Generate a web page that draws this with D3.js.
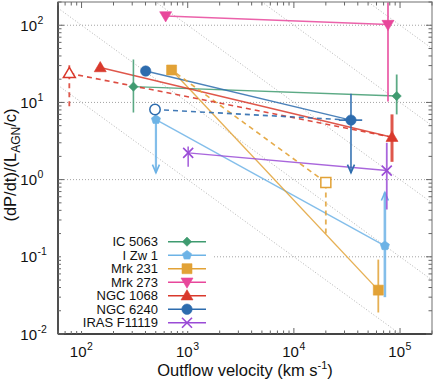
<!DOCTYPE html>
<html>
<head>
<meta charset="utf-8">
<script src="https://cdn.jsdelivr.net/npm/d3@7"></script>
<style>
  body { margin: 0; background: #fff; }
  svg { display: block; font-family: "Liberation Sans", Arial, sans-serif; }
</style>
</head>
<body>
<svg id="chart" width="436" height="382"></svg>
<script>
// sources, in legend order
var names = ["IC 5063", "I Zw 1", "Mrk 231", "Mrk 273", "NGC 1068", "NGC 6240", "IRAS F11119"];
var colors = ["#3f9b70", "#6db3e6", "#e2a236", "#e8479b", "#d9392c", "#2d6cae", "#9a4bd6"];
var shapes = ["diamond", "pentagon", "square", "tridown", "triup", "circle", "x"];

// molecular outflow (low velocity) points
var vMol = [308, 502, 705, 620, 150, 402, 1010];
var pMol = [16.0, 6.0, 26.3, 132, 28.3, 25.5, 2.22];
// UFO (high velocity) points
var vUfo = [9.3e4, 7.2e4, 6.24e4, 7.7e4, 8.4e4, 3.45e4, 7.5e4];
var pUfo = [12.1, 0.139, 0.037, 102, 3.54, 5.9, 1.31];

// vertical bars [low, high] and which end is an arrow (limit)
var barMol = [[7.4, 36], [1.23, 6.0], null, null, null, null, [1.47, 2.68]];
var arrowMol = [null, "low", null, null, null, null, null];
var barUfo = [[7, 23], [0.03, 0.68], [0.019, 0.092], [10.3, 500], [1.7, 7], [1.23, 13], [0.41, 3.0]];
var arrowUfo = [null, "high", null, null, null, "low", null];
var xbarUfo = [null, null, null, null, null, [2.65e4, 4.4e4], null];

// alternative estimates (open symbols, dashed)
var altSrc = [2, 4, 5];
var altV = [2e4, 76.7, 492];
var altP = [0.92, 23.8, 8.1];
var altSide = ["ufo", "mol", "mol"];
var altBar = [[0.2, 1.05], [8.9, 31], null];

// guide lines p = K / v
var guideK = [1e3, 1e4, 1e5, 1e6, 1e7];
var xMajor = [1e2, 1e3, 1e4, 1e5];
var yMajor = [1e-2, 1e-1, 1, 10, 100];
var yGrid = [1e-1, 1, 10, 100];

var svg = d3.select("#chart");
var L = 58, R = 432, T = 2, B = 334;
var x = d3.scaleLog().domain([60, 2e5]).range([L, R]);
var y = d3.scaleLog().domain([0.01, 200]).range([B, T]);

svg.append("defs").append("clipPath").attr("id", "clip")
  .append("rect").attr("x", L).attr("y", T).attr("width", R - L).attr("height", B - T);

var plot = svg.append("g").attr("clip-path", "url(#clip)");

// horizontal grid
plot.selectAll(".grid").data(yGrid).enter().append("line")
  .attr("x1", L).attr("x2", R)
  .attr("y1", function(d) { return y(d); }).attr("y2", function(d) { return y(d); })
  .attr("stroke", "#999").attr("stroke-width", 0.9).attr("stroke-dasharray", "1,2");

// diagonal guides
plot.selectAll(".guide").data(guideK).enter().append("line")
  .attr("x1", x(60)).attr("x2", x(2e5))
  .attr("y1", function(k) { return y(k / 60); })
  .attr("y2", function(k) { return y(k / 2e5); })
  .attr("stroke", "#aaa").attr("stroke-width", 0.9).attr("stroke-dasharray", "1,2");

function markerPath(shape, r) {
  switch (shape) {
    case "circle": return d3.symbol(d3.symbolCircle, Math.PI * r * r)();
    case "square": return "M" + (-r) + "," + (-r) + "h" + 2 * r + "v" + 2 * r + "h" + (-2 * r) + "Z";
    case "diamond": return "M0," + (-r) + "L" + r + ",0L0," + r + "L" + (-r) + ",0Z";
    case "triup": return "M0," + (-r) + "L" + r + "," + (0.7 * r) + "L" + (-r) + "," + (0.7 * r) + "Z";
    case "tridown": return "M0," + r + "L" + r + "," + (-0.7 * r) + "L" + (-r) + "," + (-0.7 * r) + "Z";
    case "pentagon":
      return "M" + d3.range(5).map(function(i) {
        var a = -Math.PI / 2 + i * 2 * Math.PI / 5;
        return [r * Math.cos(a), r * Math.sin(a)].join(",");
      }).join("L") + "Z";
    case "x": return "M" + (-r) + "," + (-r) + "L" + r + "," + r + "M" + (-r) + "," + r + "L" + r + "," + (-r);
  }
}
var markerSize = { circle: 5.2, square: 5, diamond: 4.6, triup: 6, tridown: 6, pentagon: 4.8, x: 5 };

function drawMarker(g, shape, color, cx, cy, open) {
  var p = g.append("path").attr("d", markerPath(shape, markerSize[shape]))
    .attr("transform", "translate(" + cx + "," + cy + ")");
  if (shape === "x") p.attr("fill", "none").attr("stroke", color).attr("stroke-width", 1.6);
  else if (open) p.attr("fill", "#fff").attr("stroke", color).attr("stroke-width", 1.5);
  else p.attr("fill", color).attr("stroke", color).attr("stroke-width", 0.6);
}

function vbar(g, color, v, lo, hi, arrow, dashed, w) {
  g.append("line").attr("x1", x(v)).attr("x2", x(v)).attr("y1", y(lo)).attr("y2", y(hi))
    .attr("stroke", color).attr("stroke-width", w || 1.8).attr("stroke-opacity", 0.85)
    .attr("stroke-dasharray", dashed ? "5,4" : null);
  if (arrow) {
    var ye = arrow === "low" ? y(lo) : y(hi);
    var off = arrow === "low" ? -8 : 8;
    g.append("path").attr("d", "M" + (x(v) - 3.5) + "," + (ye + off) + "L" + x(v) + "," + ye + "L" + (x(v) + 3.5) + "," + (ye + off))
      .attr("fill", "none").attr("stroke", color).attr("stroke-width", 1.6);
  }
}

// connecting lines
names.forEach(function(n, i) {
  plot.append("line")
    .attr("x1", x(vMol[i])).attr("y1", y(pMol[i]))
    .attr("x2", x(vUfo[i])).attr("y2", y(pUfo[i]))
    .attr("stroke", colors[i]).attr("stroke-width", 1.4).attr("stroke-opacity", 0.85);
});
altSrc.forEach(function(i, j) {
  var ov = altSide[j] === "ufo" ? vMol[i] : vUfo[i];
  var op = altSide[j] === "ufo" ? pMol[i] : pUfo[i];
  plot.append("line")
    .attr("x1", x(altV[j])).attr("y1", y(altP[j]))
    .attr("x2", x(ov)).attr("y2", y(op))
    .attr("stroke", colors[i]).attr("stroke-width", 1.6).attr("stroke-dasharray", "5,4")
    .attr("stroke-opacity", 0.9);
});

// error bars
names.forEach(function(n, i) {
  if (barMol[i]) vbar(plot, colors[i], vMol[i], barMol[i][0], barMol[i][1], arrowMol[i], false, i === 1 ? 2.2 : 1.6);
  if (barUfo[i]) vbar(plot, colors[i], vUfo[i], barUfo[i][0], barUfo[i][1], arrowUfo[i], false,
    i === 1 ? 2.6 : (i === 4 ? 3 : 1.8));
  if (xbarUfo[i]) plot.append("line")
    .attr("x1", x(xbarUfo[i][0])).attr("x2", x(xbarUfo[i][1]))
    .attr("y1", y(pUfo[i])).attr("y2", y(pUfo[i]))
    .attr("stroke", colors[i]).attr("stroke-width", 1.6);
});
altSrc.forEach(function(i, j) {
  if (altBar[j]) vbar(plot, colors[i], altV[j], altBar[j][0], altBar[j][1], null, true, 1.8);
});

// markers
names.forEach(function(n, i) {
  drawMarker(plot, shapes[i], colors[i], x(vMol[i]), y(pMol[i]), false);
  drawMarker(plot, shapes[i], colors[i], x(vUfo[i]), y(pUfo[i]), false);
});
altSrc.forEach(function(i, j) {
  drawMarker(plot, shapes[i], colors[i], x(altV[j]), y(altP[j]), true);
});

// frame and ticks
svg.append("rect").attr("x", L).attr("y", T).attr("width", R - L).attr("height", B - T)
  .attr("fill", "none").attr("stroke", "#999").attr("stroke-width", 1.4);
svg.append("line").attr("x1", L).attr("x2", L).attr("y1", T).attr("y2", B)
  .attr("stroke", "#444").attr("stroke-width", 1.8);
svg.append("line").attr("x1", L).attr("x2", R).attr("y1", B).attr("y2", B)
  .attr("stroke", "#444").attr("stroke-width", 1.8);

function isMajor(t) { return Math.abs(Math.log10(t) - Math.round(Math.log10(t))) < 1e-6; }
var ticks = svg.append("g").attr("stroke", "#666").attr("stroke-width", 1);
x.ticks().forEach(function(t) {
  var len = isMajor(t) ? 6 : 3.5;
  ticks.append("line").attr("x1", x(t)).attr("x2", x(t)).attr("y1", B).attr("y2", B - len);
  ticks.append("line").attr("x1", x(t)).attr("x2", x(t)).attr("y1", T).attr("y2", T + len);
});
y.ticks().forEach(function(t) {
  var len = isMajor(t) ? 6 : 3.5;
  ticks.append("line").attr("y1", y(t)).attr("y2", y(t)).attr("x1", L).attr("x2", L + len);
  ticks.append("line").attr("y1", y(t)).attr("y2", y(t)).attr("x1", R).attr("x2", R - len);
});

// tick labels
function powLabel(px, py, e) {
  svg.append("text").attr("x", px).attr("y", py).attr("text-anchor", "end")
    .attr("font-size", 15).attr("fill", "#111").text("10");
  svg.append("text").attr("x", px + 0.5).attr("y", py - 7).attr("text-anchor", "start")
    .attr("font-size", 10.5).attr("fill", "#111").text(e);
}
xMajor.forEach(function(t) { powLabel(x(t) + 5, 357, String(Math.round(Math.log10(t)))); });
yMajor.forEach(function(t) { powLabel(37, y(t) + 5.5, String(Math.round(Math.log10(t)))); });

// axis titles
var xt = svg.append("text").attr("x", 245).attr("y", 376).attr("text-anchor", "middle")
  .attr("font-size", 16.5).attr("fill", "#111");
xt.append("tspan").text("Outflow velocity (km s");
xt.append("tspan").attr("dy", -7).attr("font-size", 11).text("-1");
xt.append("tspan").attr("dy", 7).text(")");

var yt = svg.append("text").attr("transform", "translate(16,165) rotate(-90)")
  .attr("text-anchor", "middle").attr("font-size", 16.5).attr("fill", "#111");
yt.append("tspan").text("(dP/dt)/(L");
yt.append("tspan").attr("dy", 4).attr("font-size", 12).text("AGN");
yt.append("tspan").attr("dy", -4).text("/c)");

// legend
var lg = svg.append("g");
lg.append("rect").attr("x", 61).attr("y", 232).attr("width", 152).attr("height", 99).attr("fill", "#fff");
names.forEach(function(n, i) {
  var ly = 241.7 + i * 13.5;
  lg.append("text").attr("x", 158).attr("y", ly + 4.5).attr("text-anchor", "end")
    .attr("font-size", 13).attr("fill", "#111").text(n);
  lg.append("line").attr("x1", 168).attr("x2", 206).attr("y1", ly).attr("y2", ly)
    .attr("stroke", colors[i]).attr("stroke-width", 1.6);
  drawMarker(lg, shapes[i], colors[i], 187, ly, false);
});
</script>
</body>
</html>
